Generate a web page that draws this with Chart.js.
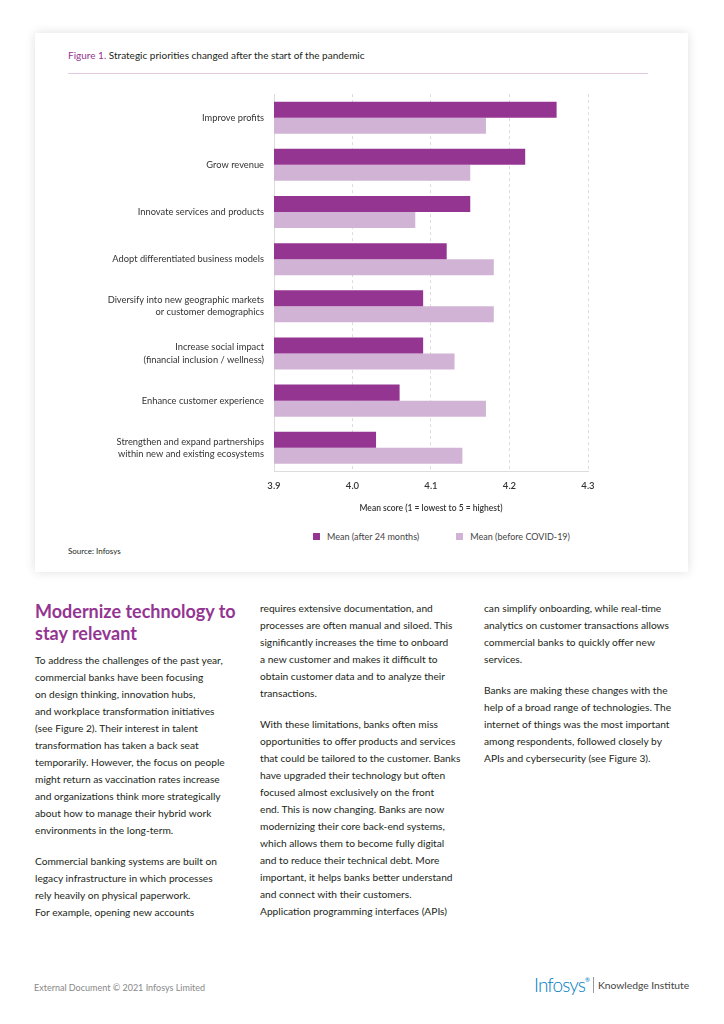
<!DOCTYPE html>
<html>
<head>
<meta charset="utf-8">
<script src="https://cdn.jsdelivr.net/npm/chart.js@4.4.0/dist/chart.umd.min.js"></script>
<style>
  body { margin: 0; width: 724px; height: 1024px; background: #fff; font-family: Lato, "Liberation Sans", sans-serif; color: #231f20; position: relative; overflow: hidden; }
  .card { position: absolute; left: 35px; top: 33px; width: 653px; height: 539px; background: #fff; box-shadow: 0 0 10px rgba(0,0,0,0.13); }
  .fig-title { position: absolute; left: 68px; top: 49px; font-size: 10px; }
  .fig-title span { color: #943592; }
  .rule { position: absolute; left: 68px; top: 73px; width: 580px; height: 1px; background: #e3c9e3; }
  #chartBox { position: absolute; left: 64px; top: 72px; width: 576px; height: 443px; }
  #legend { position: absolute; top: 531px; left: 313px; font-size: 9px; color: #444; display: flex; }
  #legend .item { display: flex; align-items: center; margin-right: 37px; }
  #legend .sw { width: 7px; height: 7px; margin-right: 7px; }
  .source { position: absolute; left: 68px; top: 546px; font-size: 8px; }
  .col { position: absolute; font-size: 10.2px; line-height: 17px; width: 240px; }
  .col p { margin: 0 0 14px 0; }
  h2 { position: absolute; left: 35px; top: 600px; margin: 0; font-size: 18px; line-height: 22px; color: #943592; font-weight: 700; }
  .footer { position: absolute; left: 34px; top: 982px; font-size: 9px; color: #888; }
  .logo { position: absolute; left: 534px; top: 973px; display: flex; align-items: center; }
  .logo .brand { font-size: 19px; color: #007cc3; font-weight: 300; letter-spacing: -0.9px; }
  .logo .reg { font-size: 6px; color: #007cc3; align-self: flex-start; margin-top: 3px; }
  .logo .sep { width: 1px; height: 16px; background: #999; margin: 0 4px 0 3px; }
  .logo .ki { font-size: 10.3px; color: #444; }
</style>
</head>
<body>
<div class="card"></div>
<div class="fig-title"><span>Figure 1.</span> Strategic priorities changed after the start of the pandemic</div>
<div class="rule"></div>
<div id="chartBox"><canvas id="chart"></canvas></div>
<div id="legend"></div>
<div class="source">Source: Infosys</div>

<h2>Modernize technology to<br>stay relevant</h2>
<div class="col" style="left:35px; top:652px;">
  <p>To address the challenges of the past year,<br>commercial banks have been focusing<br>on design thinking, innovation hubs,<br>and workplace transformation initiatives<br>(see Figure 2). Their interest in talent<br>transformation has taken a back seat<br>temporarily. However, the focus on people<br>might return as vaccination rates increase<br>and organizations think more strategically<br>about how to manage their hybrid work<br>environments in the long-term.</p>
  <p>Commercial banking systems are built on<br>legacy infrastructure in which processes<br>rely heavily on physical paperwork.<br>For example, opening new accounts</p>
</div>
<div class="col" style="left:260px; top:600px;">
  <p>requires extensive documentation, and<br>processes are often manual and siloed. This<br>significantly increases the time to onboard<br>a new customer and makes it difficult to<br>obtain customer data and to analyze their<br>transactions.</p>
  <p>With these limitations, banks often miss<br>opportunities to offer products and services<br>that could be tailored to the customer. Banks<br>have upgraded their technology but often<br>focused almost exclusively on the front<br>end. This is now changing. Banks are now<br>modernizing their core back-end systems,<br>which allows them to become fully digital<br>and to reduce their technical debt. More<br>important, it helps banks better understand<br>and connect with their customers.<br>Application programming interfaces (APIs)</p>
</div>
<div class="col" style="left:484px; top:600px;">
  <p>can simplify onboarding, while real-time<br>analytics on customer transactions allows<br>commercial banks to quickly offer new<br>services.</p>
  <p>Banks are making these changes with the<br>help of a broad range of technologies. The<br>internet of things was the most important<br>among respondents, followed closely by<br>APIs and cybersecurity (see Figure 3).</p>
</div>

<div class="footer">External Document © 2021 Infosys Limited</div>
<div class="logo"><span class="brand">Infosys</span><span class="reg">®</span><span class="sep"></span><span class="ki">Knowledge Institute</span></div>

<script>
// values
const categories = [
  'Improve profits',
  'Grow revenue',
  'Innovate services and products',
  'Adopt differentiated business models',
  ['Diversify into new geographic markets', 'or customer demographics'],
  ['Increase social impact', '(financial inclusion / wellness)'],
  'Enhance customer experience',
  ['Strengthen and expand partnerships', 'within new and existing ecosystems']
];
const meanAfter24Months = [4.26, 4.22, 4.15, 4.12, 4.09, 4.09, 4.06, 4.03];
const meanBeforeCovid = [4.17, 4.15, 4.08, 4.18, 4.18, 4.13, 4.17, 4.14];
const xTicks = [3.9, 4.0, 4.1, 4.2, 4.3];
const seriesNames = ['Mean (after 24 months)', 'Mean (before COVID-19)'];
const seriesColors = ['#943592', '#d1b4d5'];

const datasets = [meanAfter24Months, meanBeforeCovid].map((vals, i) => ({
  label: seriesNames[i],
  data: vals,
  backgroundColor: seriesColors[i],
  borderWidth: 0,
  barPercentage: 1,
  categoryPercentage: 0.68
}));

// legend
const legend = document.getElementById('legend');
datasets.forEach(ds => {
  legend.innerHTML += `<div class="item"><div class="sw" style="background:${ds.backgroundColor}"></div>${ds.label}</div>`;
});

const ctx = document.getElementById('chart').getContext('2d');
new Chart(ctx, {
  type: 'bar',
  data: { labels: categories, datasets: datasets },
  options: {
    indexAxis: 'y',
    responsive: true,
    maintainAspectRatio: false,
    animation: false,
    events: [],
    layout: { padding: { top: 7, right: 52, left: 0, bottom: 0 } },
    plugins: { legend: { display: false }, tooltip: { enabled: false } },
    scales: {
      x: {
        min: 3.9,
        max: 4.3,
        afterBuildTicks: s => { s.ticks = xTicks.map(v => ({ value: v })); },
        ticks: {
          callback: v => v.toFixed(1),
          color: '#333',
          padding: 9,
          font: { family: 'Lato', size: 9.5, weight: '600' }
        },
        grid: { color: '#dcdcdc', drawTicks: false, lineWidth: 1 },
        border: { display: true, color: '#dcdcdc', dash: [3, 3] },
        title: {
          display: true,
          text: 'Mean score (1 = lowest to 5 = highest)',
          color: '#333',
          padding: { top: 2, bottom: 2 },
          font: { family: 'Lato', size: 8.5, weight: '600' }
        }
      },
      y: {
        afterFit: s => { s.width = 210; },
        grid: { display: false, drawTicks: false },
        border: { display: true, color: '#dcdcdc' },
        ticks: {
          color: '#333',
          padding: 10,
          font: { family: 'Lato', size: 9.3, lineHeight: 1.3 }
        }
      }
    }
  }
});
</script>
</body>
</html>
